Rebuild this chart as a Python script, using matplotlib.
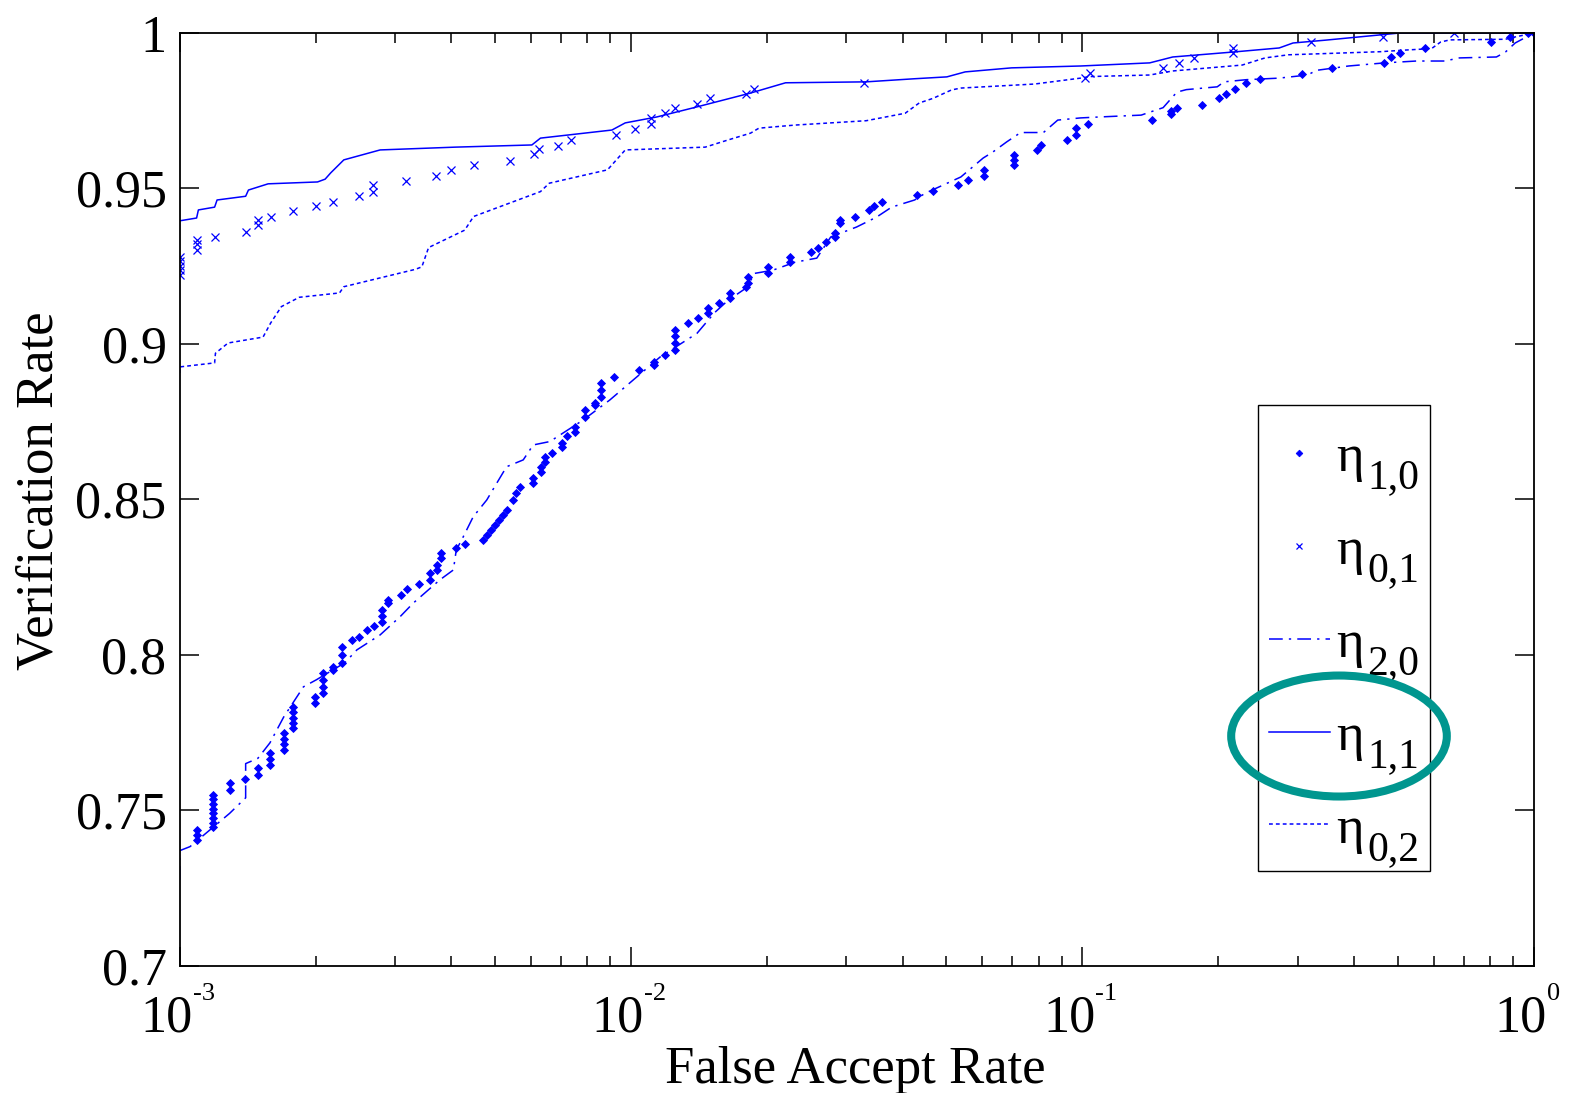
import matplotlib
matplotlib.use("Agg")
import matplotlib.pyplot as plt
from matplotlib.patches import Ellipse, Rectangle
from matplotlib.ticker import FixedLocator, LogLocator, NullFormatter
from matplotlib.transforms import offset_copy

# ---------------- data ----------------
legend_base = 'η'
legend_subs = ['1,0', '0,1', '2,0', '1,1', '0,2']

# eta_{1,0}: diamond markers
far10 = [1.09e-3, 1.09e-3, 1.09e-3,
         1.187e-3, 1.187e-3, 1.187e-3, 1.187e-3, 1.187e-3, 1.187e-3, 1.187e-3, 1.187e-3,
         1.29e-3, 1.29e-3, 1.395e-3, 1.493e-3, 1.493e-3, 1.585e-3, 1.585e-3, 1.585e-3,
         1.70e-3, 1.70e-3, 1.70e-3, 1.70e-3, 1.785e-3, 1.785e-3, 1.785e-3, 1.785e-3, 1.785e-3,
         1.995e-3, 1.995e-3, 2.08e-3, 2.08e-3, 2.08e-3, 2.08e-3, 2.19e-3, 2.19e-3,
         2.285e-3, 2.285e-3, 2.285e-3, 2.405e-3, 2.49e-3, 2.595e-3, 2.70e-3,
         2.80e-3, 2.80e-3, 2.80e-3, 2.90e-3, 2.90e-3, 3.10e-3, 3.19e-3, 3.39e-3,
         3.59e-3, 3.59e-3, 3.71e-3, 3.71e-3, 3.80e-3, 3.80e-3, 4.10e-3, 4.28e-3,
         4.70e-3, 4.79e-3, 4.90e-3, 5.00e-3, 5.10e-3, 5.20e-3, 5.30e-3, 5.48e-3, 5.57e-3, 5.67e-3,
         6.07e-3, 6.07e-3, 6.33e-3, 6.33e-3, 6.44e-3, 6.44e-3, 6.69e-3, 7.03e-3, 7.03e-3,
         7.21e-3, 7.52e-3, 7.52e-3, 7.91e-3, 7.91e-3, 8.33e-3, 8.33e-3,
         8.57e-3, 8.57e-3, 8.57e-3, 9.18e-3, 1.04e-2, 1.126e-2, 1.126e-2, 1.19e-2,
         1.25e-2, 1.25e-2, 1.25e-2, 1.25e-2, 1.34e-2, 1.41e-2, 1.48e-2, 1.48e-2, 1.57e-2,
         1.66e-2, 1.66e-2, 1.80e-2, 1.82e-2, 1.82e-2, 2.01e-2, 2.01e-2, 2.25e-2, 2.25e-2,
         2.50e-2, 2.59e-2, 2.71e-2, 2.83e-2, 2.83e-2, 2.90e-2, 2.90e-2, 3.14e-2, 3.36e-2,
         3.45e-2, 3.60e-2, 0.043, 0.0467, 0.0531, 0.0557, 0.0605, 0.0605,
         0.0705, 0.0705, 0.0705, 0.0793, 0.0811, 0.0924, 0.0968, 0.0968, 0.1027,
         0.143, 0.157, 0.157, 0.162, 0.184, 0.201, 0.208, 0.218, 0.230, 0.247,
         0.307, 0.358, 0.467, 0.483, 0.505, 0.573, 0.806, 0.885, 0.974, 1.0]
vr10 = [0.7405, 0.7421, 0.7437,
        0.7447, 0.7460, 0.7475, 0.7490, 0.7505, 0.7520, 0.7535, 0.7550,
        0.7565, 0.7588, 0.7600, 0.7613, 0.7635, 0.7645, 0.7665, 0.7684,
        0.7694, 0.7712, 0.7730, 0.7748, 0.7764, 0.7781, 0.7798, 0.7815, 0.7832,
        0.7845, 0.7864, 0.7877, 0.7898, 0.7920, 0.7941, 0.7950, 0.7960,
        0.7973, 0.7999, 0.8025, 0.8048, 0.8058, 0.8080, 0.8093,
        0.8106, 0.8125, 0.8144, 0.8166, 0.8176, 0.8192, 0.8211, 0.8228,
        0.8240, 0.8263, 0.8273, 0.8289, 0.8311, 0.8327, 0.8343, 0.8356,
        0.8370, 0.8385, 0.8401, 0.8417, 0.8433, 0.8450, 0.8466, 0.8498, 0.8520, 0.8540,
        0.8552, 0.8568, 0.8588, 0.8604, 0.8620, 0.8637, 0.8650, 0.8668, 0.8680,
        0.8704, 0.8717, 0.8733, 0.8765, 0.8787, 0.8803, 0.8810,
        0.8830, 0.8852, 0.8874, 0.8894, 0.8917, 0.8932, 0.8942, 0.8964,
        0.8980, 0.9002, 0.9024, 0.9045, 0.9067, 0.9083, 0.9099, 0.9115, 0.9131,
        0.9147, 0.9163, 0.9183, 0.9196, 0.9215, 0.9228, 0.9247, 0.9263, 0.9280,
        0.9295, 0.9308, 0.9327, 0.9343, 0.9356, 0.9389, 0.9398, 0.9408, 0.9430,
        0.9443, 0.9457, 0.9479, 0.9492, 0.9511, 0.9527, 0.9540, 0.9560,
        0.9576, 0.9592, 0.9608, 0.9624, 0.9640, 0.9656, 0.9672, 0.9694, 0.9707,
        0.9720, 0.9740, 0.9750, 0.9759, 0.9769, 0.9790, 0.9804, 0.9820, 0.9840, 0.9853,
        0.9869, 0.9888, 0.9904, 0.9923, 0.9936, 0.9952, 0.9971, 0.9987, 1.0, 1.0]

# eta_{0,1}: x markers
far01 = [1.0e-3, 1.0e-3, 1.0e-3, 1.0e-3, 1.0e-3, 1.09e-3, 1.09e-3, 1.09e-3, 1.195e-3, 1.40e-3,
         1.494e-3, 1.494e-3, 1.59e-3, 1.78e-3, 2.0e-3, 2.19e-3, 2.49e-3, 2.68e-3, 2.68e-3,
         3.18e-3, 3.69e-3, 4.0e-3, 4.48e-3, 5.39e-3, 6.09e-3, 6.26e-3, 6.88e-3, 7.35e-3,
         9.28e-3, 1.02e-2, 1.11e-2, 1.11e-2, 1.19e-2, 1.25e-2, 1.40e-2, 1.50e-2, 1.80e-2, 1.87e-2,
         3.29e-2, 0.1013, 0.1039, 0.151, 0.164, 0.177, 0.216, 0.216, 0.3207, 0.464, 0.667]
vr01 = [0.9222, 0.9237, 0.9252, 0.9266, 0.9280, 0.9302, 0.9320, 0.9335, 0.9345, 0.9360,
        0.9383, 0.9399, 0.9408, 0.9428, 0.9444, 0.9457, 0.9476, 0.9489, 0.9511,
        0.9524, 0.9540, 0.9560, 0.9576, 0.9588, 0.9610, 0.9626, 0.9637, 0.9656,
        0.9672, 0.9691, 0.9707, 0.9726, 0.9742, 0.9759, 0.9772, 0.9791, 0.9804, 0.9820,
        0.9839, 0.9855, 0.9870, 0.9888, 0.9904, 0.9920, 0.9936, 0.9952, 0.9971, 0.9987, 1.0]

# eta_{2,0}: dash-dot line
far20 = [1.0e-3, 1.0e-3, 1.054e-3, 1.29e-3, 1.40e-3, 1.40e-3, 1.49e-3, 1.585e-3, 1.70e-3, 1.88e-3,
         2.01e-3, 2.32e-3, 2.47e-3, 2.78e-3, 3.08e-3, 3.29e-3, 3.77e-3, 4.04e-3, 4.10e-3, 4.25e-3,
         4.47e-3, 4.79e-3, 5.04e-3, 5.30e-3, 5.77e-3, 6.07e-3, 6.61e-3, 7.83e-3, 8.98e-3, 1.16e-2,
         1.40e-2, 1.53e-2, 1.64e-2, 1.80e-2, 1.88e-2, 2.06e-2, 2.31e-2, 2.58e-2, 2.77e-2, 3.16e-2,
         3.5e-2, 3.78e-2, 4.25e-2, 4.49e-2, 5.38e-2, 6.03e-2, 6.33e-2, 6.8e-2, 7.3e-2, 8.2e-2,
         8.82e-2, 9.91e-2, 0.109, 0.135, 0.151, 0.162, 0.170, 0.199, 0.206, 0.231,
         0.273, 0.3156, 0.33, 0.363, 0.389, 0.467, 0.55, 0.635, 0.685, 0.827,
         0.866, 0.91, 1.0]
vr20 = [0.7276, 0.7370, 0.7383, 0.7490, 0.7540, 0.7650, 0.7667, 0.7717, 0.7800, 0.7897,
        0.7920, 0.7974, 0.8016, 0.8064, 0.8123, 0.8166, 0.8241, 0.8273, 0.8337, 0.8380,
        0.8444, 0.8498, 0.8552, 0.8605, 0.8627, 0.8675, 0.8686, 0.8755, 0.8820, 0.8958,
        0.9034, 0.9100, 0.9140, 0.9180, 0.9227, 0.9237, 0.9263, 0.9276, 0.9344, 0.9376,
        0.9408, 0.9440, 0.9463, 0.9485, 0.9537, 0.9598, 0.9617, 0.9650, 0.9680, 0.9680,
        0.9720, 0.9727, 0.9730, 0.9736, 0.9760, 0.9810, 0.9818, 0.9827, 0.9843, 0.9850,
        0.9855, 0.9865, 0.9880, 0.9888, 0.9894, 0.9904, 0.9910, 0.9910, 0.9920, 0.9923,
        0.9939, 0.9968, 1.0]

# eta_{1,1}: solid line
far11 = [1.0e-3, 1.09e-3, 1.10e-3, 1.195e-3, 1.21e-3, 1.40e-3, 1.42e-3, 1.57e-3, 2.02e-3, 2.10e-3,
         2.16e-3, 2.31e-3, 2.78e-3, 4.08e-3, 6.03e-3, 6.30e-3, 9.07e-3, 9.71e-3, 1.14e-2, 1.37e-2,
         1.84e-2, 2.20e-2, 3.32e-2, 4.25e-2, 5.01e-2, 5.5e-2, 6.97e-2, 9.91e-2, 0.141, 0.1586,
         0.216, 0.273, 0.293, 0.345, 0.407, 0.504, 1.0]
vr11 = [0.9396, 0.9405, 0.9431, 0.9440, 0.9463, 0.9475, 0.9495, 0.9515, 0.9521, 0.9530,
        0.9550, 0.9592, 0.9624, 0.9633, 0.9640, 0.9662, 0.9688, 0.9711, 0.9730, 0.9759,
        0.9807, 0.9840, 0.9843, 0.9853, 0.9859, 0.9875, 0.9888, 0.9894, 0.9904, 0.9923,
        0.9939, 0.9952, 0.9968, 0.9977, 0.9987, 1.0, 1.0]

# eta_{0,2}: dotted line
far02 = [1.0e-3, 1.0e-3, 1.195e-3, 1.2e-3, 1.28e-3, 1.53e-3, 1.59e-3, 1.68e-3, 1.84e-3, 2.26e-3,
         2.31e-3, 3.33e-3, 3.44e-3, 3.56e-3, 4.28e-3, 4.48e-3, 4.90e-3, 6.30e-3, 6.59e-3, 8.87e-3,
         9.28e-3, 9.71e-3, 1.46e-2, 1.64e-2, 1.84e-2, 1.92e-2, 2.31e-2, 3.32e-2, 4.05e-2, 4.35e-2,
         4.67e-2, 5.13e-2, 5.38e-2, 7.84e-2, 9.91e-2, 0.1039, 0.141, 0.1586, 0.226, 0.254,
         0.286, 0.458, 0.516, 0.594, 0.622, 0.652, 0.866, 0.907, 1.0]
vr02 = [0.8906, 0.8926, 0.8939, 0.8970, 0.9003, 0.9022, 0.9067, 0.9120, 0.9150, 0.9164,
        0.9184, 0.9240, 0.9248, 0.9310, 0.9366, 0.9410, 0.9431, 0.9490, 0.9517, 0.9560,
        0.9592, 0.9624, 0.9633, 0.9656, 0.9678, 0.9694, 0.9704, 0.9718, 0.9742, 0.9775,
        0.9790, 0.9817, 0.9823, 0.9836, 0.9855, 0.9860, 0.9865, 0.9878, 0.9897, 0.9920,
        0.9930, 0.9940, 0.9945, 0.9950, 0.9971, 0.9978, 0.9980, 0.9987, 1.0]

yticks = [0.7, 0.75, 0.8, 0.85, 0.9, 0.95, 1.0]
ytick_labels = ['0.7', '0.75', '0.8', '0.85', '0.9', '0.95', '1']
xticks = [1e-3, 1e-2, 1e-1, 1.0]
xtick_base = '10'
xtick_exps = ['-3', '-2', '-1', '0']
xlabel = 'False Accept Rate'
ylabel = 'Verification Rate'

# ---------------- style ----------------
plt.rcParams['font.family'] = ['Liberation Serif', 'DejaVu Serif']
plt.rcParams['axes.unicode_minus'] = False

BLUE = '#0000FF'
TICK_FS = 37.5
LAB_FS = 38
PX = 72.0 / 100.0   # points per pixel at dpi 100

fig = plt.figure(figsize=(15.74, 10.93), dpi=100)
ax = fig.add_axes([0.11417, 0.11647, 0.8602, 0.8533])

h10, = ax.plot(far10, vr10, linestyle='none', marker='D', markersize=4.2, color=BLUE,
               markeredgewidth=0.6)
h01, = ax.plot(far01, vr01, linestyle='none', marker='x', markersize=6, color=BLUE,
               markeredgewidth=0.9)
h20, = ax.plot(far20, vr20, linestyle=(0, (9, 4, 1.5, 4)), linewidth=1.1, color=BLUE)
h11, = ax.plot(far11, vr11, linestyle='-', linewidth=1.1, color=BLUE)
h02, = ax.plot(far02, vr02, linestyle=(0, (2.5, 2)), linewidth=1.1, color=BLUE)

ax.set_xscale('log')
ax.set_xlim(1e-3, 1)
ax.set_ylim(0.7, 1.0)
ax.yaxis.set_major_locator(FixedLocator(yticks))
ax.set_yticklabels(ytick_labels)
ax.xaxis.set_major_locator(FixedLocator(xticks))
ax.xaxis.set_minor_locator(LogLocator(base=10, subs=range(2, 10), numticks=20))
ax.xaxis.set_major_formatter(NullFormatter())
ax.xaxis.set_minor_formatter(NullFormatter())

ax.tick_params(which='both', direction='in', top=True, right=True, width=1.1,
               labelsize=TICK_FS, colors='black')
ax.tick_params(axis='y', which='major', length=14, pad=9.5)
ax.tick_params(axis='x', which='major', length=14)
ax.tick_params(which='minor', length=7)
for s in ax.spines.values():
    s.set_linewidth(1.3)
    s.set_color('black')

# x tick labels "10" with a small raised exponent
xtr = ax.get_xaxis_transform()
for xv, ex in zip(xticks, xtick_exps):
    ax.text(xv, 0, xtick_base, fontsize=TICK_FS, ha='right', va='baseline',
            transform=offset_copy(xtr, fig=fig, x=13 * PX, y=-66 * PX, units='points'))
    ax.text(xv, 0, ex, fontsize=19, ha='left', va='baseline',
            transform=offset_copy(xtr, fig=fig, x=13 * PX, y=-34 * PX, units='points'))

ax.set_xlabel(xlabel, fontsize=LAB_FS)
ax.set_ylabel(ylabel, fontsize=LAB_FS)
ax.xaxis.set_label_coords(0.4988, -0.086)
ax.yaxis.set_label_coords(-0.0858, 0.509)

# legend: handles + eta from the legend, frame and subscripts added around it
LEG_FS = 38
leg = ax.legend([h10, h01, h20, h11, h02], [legend_base] * 5,
                loc='upper left', bbox_to_anchor=(0.8045, 0.5700), bbox_transform=ax.transAxes,
                borderaxespad=0, borderpad=0, frameon=False, fontsize=LEG_FS, numpoints=1,
                handlelength=1.155, handletextpad=0.11, labelspacing=0.852,
                markerscale=0.8, handleheight=0.7)
frame = Rectangle((0.7964, 0.1015), 0.1270, 0.4997, transform=ax.transAxes,
                  facecolor='white', edgecolor='black', linewidth=1.0, zorder=4)
ax.add_patch(frame)

fig.canvas.draw()
renderer = fig.canvas.get_renderer()
W, H = fig.bbox.width, fig.bbox.height
for t, sub in zip(leg.get_texts(), legend_subs):
    bb = t.get_window_extent(renderer)
    prop = t.get_fontproperties()
    w_eta, _, d_eta = renderer.get_text_width_height_descent(legend_base, prop, ismath=False)
    _, _, d_lp = renderer.get_text_width_height_descent('lp', prop, ismath=False)
    baseline = bb.y0 + max(d_eta, d_lp)
    fig.text((bb.x0 + w_eta + 4) / W, (baseline - 17) / H, sub, fontsize=30,
             ha='left', va='baseline', zorder=6)

ell = Ellipse((0.8507, 0.3266), 0.137, 0.1107, transform=fig.transFigure, fill=False,
              edgecolor='#00968F', linewidth=5.8, zorder=10)
fig.add_artist(ell)

fig.savefig('out.png', dpi=100)
